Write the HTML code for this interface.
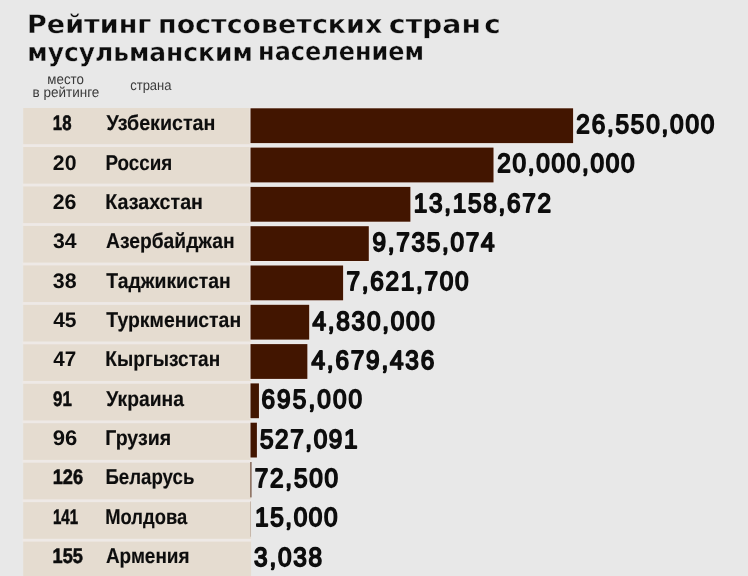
<!DOCTYPE html>
<html lang="ru">
<head>
<meta charset="utf-8">
<title>Рейтинг постсоветских стран с мусульманским населением</title>
<style>
html,body{margin:0;padding:0;background:#e8e8e8;overflow:hidden;}
body{width:748px;height:576px;overflow:hidden;}
svg{display:block;filter:blur(0.45px);}
text{fill:#0d0d0d;text-rendering:geometricPrecision;}
.title{font-family:"DejaVu Sans","Liberation Sans",sans-serif;font-weight:bold;font-size:25.4px;stroke:#e8e8e8;stroke-width:0.35px;}
.hdr{font-family:"Liberation Sans",sans-serif;font-size:14.2px;fill:#3a3a3a;}
.rank{font-family:"Liberation Sans",sans-serif;font-weight:bold;font-size:21px;}
.rank.one{stroke:#0d0d0d;stroke-width:0.55px;}
.cty{font-family:"Liberation Sans",sans-serif;font-weight:bold;font-size:21.3px;stroke:#0d0d0d;stroke-width:0.15px;}
.val{font-family:"Liberation Sans",sans-serif;font-weight:normal;font-size:26.3px;stroke:#0d0d0d;stroke-width:1.8px;stroke-linejoin:round;}
</style>
</head>
<body>
<svg width="756" height="584" viewBox="0 0 756 584">
<rect x="0" y="0" width="756" height="584" fill="#e8e8e8"/>
<rect x="23.2" y="108" width="227.90" height="476" fill="#e5dcd0"/>
<rect x="22.5" y="144.20" width="228.80" height="2.8" fill="#eee9e6"/>
<rect x="22.5" y="183.66" width="228.80" height="2.8" fill="#eee9e6"/>
<rect x="22.5" y="223.12" width="228.80" height="2.8" fill="#eee9e6"/>
<rect x="22.5" y="262.58" width="228.80" height="2.8" fill="#eee9e6"/>
<rect x="22.5" y="302.04" width="228.80" height="2.8" fill="#eee9e6"/>
<rect x="22.5" y="341.50" width="228.80" height="2.8" fill="#eee9e6"/>
<rect x="22.5" y="380.96" width="228.80" height="2.8" fill="#eee9e6"/>
<rect x="22.5" y="420.42" width="228.80" height="2.8" fill="#eee9e6"/>
<rect x="22.5" y="459.88" width="228.80" height="2.8" fill="#eee9e6"/>
<rect x="22.5" y="499.34" width="228.80" height="2.8" fill="#eee9e6"/>
<rect x="22.5" y="538.80" width="228.80" height="2.8" fill="#eee9e6"/>
<rect x="250.50" y="108.30" width="322.60" height="34.8" fill="#421500" stroke="#efeae8" stroke-width="1.6" paint-order="stroke"/>
<rect x="250.50" y="147.60" width="243.01" height="34.8" fill="#421500" stroke="#efeae8" stroke-width="1.6" paint-order="stroke"/>
<rect x="250.50" y="186.90" width="159.89" height="34.8" fill="#421500" stroke="#efeae8" stroke-width="1.6" paint-order="stroke"/>
<rect x="250.50" y="226.20" width="118.29" height="34.8" fill="#421500" stroke="#efeae8" stroke-width="1.6" paint-order="stroke"/>
<rect x="250.50" y="265.50" width="92.61" height="34.8" fill="#421500" stroke="#efeae8" stroke-width="1.6" paint-order="stroke"/>
<rect x="250.50" y="304.80" width="58.69" height="34.8" fill="#421500" stroke="#efeae8" stroke-width="1.6" paint-order="stroke"/>
<rect x="250.50" y="344.10" width="56.86" height="34.8" fill="#421500" stroke="#efeae8" stroke-width="1.6" paint-order="stroke"/>
<rect x="250.50" y="383.40" width="8.44" height="34.8" fill="#421500" stroke="#efeae8" stroke-width="1.6" paint-order="stroke"/>
<rect x="250.50" y="422.70" width="6.40" height="34.8" fill="#421500" stroke="#efeae8" stroke-width="1.6" paint-order="stroke"/>
<rect x="250.50" y="462.00" width="0.88" height="35.4" fill="#421500"/>
<rect x="250.50" y="501.30" width="0.18" height="35.4" fill="#421500"/>
<text class="title"><tspan id="t1" x="27.07" y="32.80" textLength="124.35" lengthAdjust="spacingAndGlyphs">Рейтинг</tspan> <tspan id="t2" x="158.07" y="32.80" textLength="224.25" lengthAdjust="spacingAndGlyphs">постсоветских</tspan> <tspan id="t3" x="388.88" y="32.80" textLength="92.13" lengthAdjust="spacingAndGlyphs">стран</tspan> <tspan id="t4" x="484.27" y="32.80" textLength="16.49" lengthAdjust="spacingAndGlyphs">с</tspan></text>
<text class="title"><tspan id="t5" x="27.30" y="60.90" textLength="225.49" lengthAdjust="spacingAndGlyphs">мусульманским</tspan> <tspan id="t6" x="258.12" y="60.30" textLength="165.94" lengthAdjust="spacingAndGlyphs">населением</tspan></text>
<text id="h1" class="hdr" x="47.37" y="83.90" textLength="36.56" lengthAdjust="spacingAndGlyphs">место</text>
<text id="h2" class="hdr" x="32.53" y="97.40" textLength="66.80" lengthAdjust="spacingAndGlyphs">в рейтинге</text>
<text id="h3" class="hdr" x="130.16" y="90.40" textLength="41.39" lengthAdjust="spacingAndGlyphs">страна</text>
<text id="r0" class="rank one" x="52.85" y="130.30" textLength="18.64" lengthAdjust="spacingAndGlyphs">18</text>
<text id="c0" class="cty" x="106.45" y="130.30" textLength="108.97" lengthAdjust="spacingAndGlyphs">Узбекистан</text>
<text id="v0" class="val" transform="translate(576.35 133.15) scale(0.925 1)" x="0" y="0" textLength="149.10" lengthAdjust="spacing">26,550,000</text>
<text id="r1" class="rank" x="52.89" y="169.62" textLength="23.62" lengthAdjust="spacingAndGlyphs">20</text>
<text id="c1" class="cty" x="105.42" y="169.62" textLength="66.83" lengthAdjust="spacingAndGlyphs">Россия</text>
<text id="v1" class="val" transform="translate(497.35 172.47) scale(0.925 1)" x="0" y="0" textLength="148.38" lengthAdjust="spacing">20,000,000</text>
<text id="r2" class="rank" x="52.67" y="208.94" textLength="23.80" lengthAdjust="spacingAndGlyphs">26</text>
<text id="c2" class="cty" x="105.31" y="208.94" textLength="97.69" lengthAdjust="spacingAndGlyphs">Казахстан</text>
<text id="v2" class="val" transform="translate(413.80 211.79) scale(0.925 1)" x="0" y="0" textLength="148.38" lengthAdjust="spacing">13,158,672</text>
<text id="r3" class="rank" x="53.00" y="248.26" textLength="23.60" lengthAdjust="spacingAndGlyphs">34</text>
<text id="c3" class="cty" x="106.01" y="248.26" textLength="128.58" lengthAdjust="spacingAndGlyphs">Азербайджан</text>
<text id="v3" class="val" transform="translate(372.57 251.11) scale(0.925 1)" x="0" y="0" textLength="131.79" lengthAdjust="spacing">9,735,074</text>
<text id="r4" class="rank" x="52.83" y="287.58" textLength="23.78" lengthAdjust="spacingAndGlyphs">38</text>
<text id="c4" class="cty" x="106.33" y="287.58" textLength="124.45" lengthAdjust="spacingAndGlyphs">Таджикистан</text>
<text id="v4" class="val" transform="translate(346.40 290.43) scale(0.925 1)" x="0" y="0" textLength="132.00" lengthAdjust="spacing">7,621,700</text>
<text id="r5" class="rank" x="53.17" y="326.90" textLength="23.33" lengthAdjust="spacingAndGlyphs">45</text>
<text id="c5" class="cty" x="106.34" y="326.90" textLength="134.80" lengthAdjust="spacingAndGlyphs">Туркменистан</text>
<text id="v5" class="val" transform="translate(312.55 329.75) scale(0.925 1)" x="0" y="0" textLength="132.19" lengthAdjust="spacing">4,830,000</text>
<text id="r6" class="rank" x="53.30" y="366.22" textLength="22.97" lengthAdjust="spacingAndGlyphs">47</text>
<text id="c6" class="cty" x="105.33" y="366.22" textLength="114.82" lengthAdjust="spacingAndGlyphs">Кыргызстан</text>
<text id="v6" class="val" transform="translate(311.55 369.07) scale(0.925 1)" x="0" y="0" textLength="132.60" lengthAdjust="spacing">4,679,436</text>
<text id="r7" class="rank one" x="53.12" y="405.54" textLength="18.76" lengthAdjust="spacingAndGlyphs">91</text>
<text id="c7" class="cty" x="106.37" y="405.54" textLength="77.63" lengthAdjust="spacingAndGlyphs">Украина</text>
<text id="v7" class="val" transform="translate(261.46 408.39) scale(0.925 1)" x="0" y="0" textLength="108.79" lengthAdjust="spacing">695,000</text>
<text id="r8" class="rank" x="52.81" y="444.86" textLength="24.53" lengthAdjust="spacingAndGlyphs">96</text>
<text id="c8" class="cty" x="105.34" y="444.86" textLength="65.72" lengthAdjust="spacingAndGlyphs">Грузия</text>
<text id="v8" class="val" transform="translate(259.95 447.71) scale(0.925 1)" x="0" y="0" textLength="105.43" lengthAdjust="spacing">527,091</text>
<text id="r9" class="rank one" x="52.71" y="484.18" textLength="30.43" lengthAdjust="spacingAndGlyphs">126</text>
<text id="c9" class="cty" x="105.42" y="484.18" textLength="88.96" lengthAdjust="spacingAndGlyphs">Беларусь</text>
<text id="v9" class="val" transform="translate(254.70 487.03) scale(0.925 1)" x="0" y="0" textLength="90.17" lengthAdjust="spacing">72,500</text>
<text id="r10" class="rank one" x="52.99" y="523.50" textLength="25.06" lengthAdjust="spacingAndGlyphs">141</text>
<text id="c10" class="cty" x="105.32" y="523.50" textLength="81.82" lengthAdjust="spacingAndGlyphs">Молдова</text>
<text id="v10" class="val" transform="translate(255.12 526.35) scale(0.925 1)" x="0" y="0" textLength="89.09" lengthAdjust="spacing">15,000</text>
<text id="r11" class="rank one" x="52.58" y="562.82" textLength="30.32" lengthAdjust="spacingAndGlyphs">155</text>
<text id="c11" class="cty" x="105.92" y="562.82" textLength="83.59" lengthAdjust="spacingAndGlyphs">Армения</text>
<text id="v11" class="val" transform="translate(254.09 565.67) scale(0.925 1)" x="0" y="0" textLength="73.58" lengthAdjust="spacing">3,038</text>
</svg>
</body>
</html>
